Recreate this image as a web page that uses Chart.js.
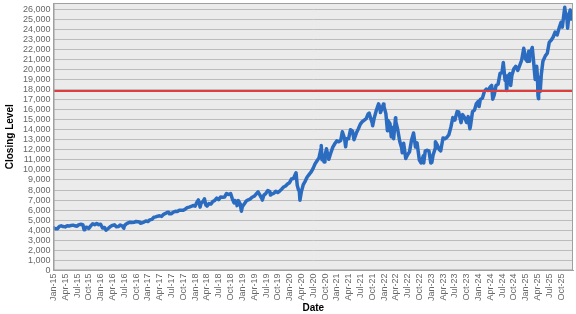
<!DOCTYPE html>
<html>
<head>
<meta charset="utf-8">
<script src="https://cdn.jsdelivr.net/npm/chart.js@4.4.1/dist/chart.umd.min.js"></script>
<style>
html,body{margin:0;padding:0;background:#fff;}
#wrap{width:576px;height:314px;position:relative;}
</style>
</head>
<body>
<div id="wrap"><canvas id="c"></canvas></div>
<script>
const dates = [
"2015-01-02","2015-01-15","2015-01-31","2015-02-15","2015-02-28","2015-03-15","2015-03-31","2015-04-15","2015-04-30","2015-05-15","2015-05-31","2015-06-15","2015-06-30","2015-07-15","2015-07-31","2015-08-15","2015-08-25","2015-08-31","2015-09-15","2015-09-30","2015-10-15","2015-10-31","2015-11-15","2015-11-30","2015-12-15","2015-12-31",
"2016-01-15","2016-01-31","2016-02-11","2016-02-29","2016-03-15","2016-03-31","2016-04-15","2016-04-30","2016-05-15","2016-05-31","2016-06-15","2016-06-27","2016-06-30","2016-07-15","2016-07-31","2016-08-15","2016-08-31","2016-09-15","2016-09-30","2016-10-15","2016-10-31","2016-11-04","2016-11-15","2016-11-30","2016-12-15","2016-12-31",
"2017-01-15","2017-01-31","2017-02-15","2017-02-28","2017-03-15","2017-03-31","2017-04-15","2017-04-30","2017-05-15","2017-05-31","2017-06-09","2017-06-15","2017-06-30","2017-07-15","2017-07-31","2017-08-15","2017-08-31","2017-09-15","2017-09-30","2017-10-15","2017-10-31","2017-11-15","2017-11-30","2017-12-15","2017-12-31",
"2018-01-15","2018-01-26","2018-02-08","2018-02-15","2018-02-28","2018-03-12","2018-03-23","2018-03-31","2018-04-02","2018-04-15","2018-04-30","2018-05-15","2018-05-31","2018-06-15","2018-06-30","2018-07-15","2018-07-31","2018-08-15","2018-08-31","2018-09-15","2018-09-30","2018-10-01","2018-10-15","2018-10-29","2018-10-31","2018-11-15","2018-11-20","2018-11-30","2018-12-15","2018-12-24","2018-12-31",
"2019-01-15","2019-01-31","2019-02-15","2019-02-28","2019-03-15","2019-03-31","2019-04-15","2019-04-30","2019-05-15","2019-05-31","2019-06-03","2019-06-15","2019-06-30","2019-07-15","2019-07-31","2019-08-05","2019-08-15","2019-08-31","2019-09-15","2019-09-30","2019-10-15","2019-10-31","2019-11-15","2019-11-30","2019-12-15","2019-12-31",
"2020-01-15","2020-01-31","2020-02-19","2020-02-28","2020-03-09","2020-03-15","2020-03-20","2020-03-31","2020-04-15","2020-04-30","2020-05-15","2020-05-31","2020-06-15","2020-06-30","2020-07-15","2020-07-31","2020-08-15","2020-08-31","2020-09-02","2020-09-08","2020-09-15","2020-09-23","2020-09-30","2020-10-12","2020-10-30","2020-11-15","2020-11-30","2020-12-15","2020-12-31",
"2021-01-15","2021-01-31","2021-02-12","2021-02-28","2021-03-08","2021-03-15","2021-03-31","2021-04-15","2021-04-30","2021-05-12","2021-05-31","2021-06-15","2021-06-30","2021-07-15","2021-07-31","2021-08-15","2021-08-31","2021-09-07","2021-09-15","2021-09-30","2021-10-04","2021-10-15","2021-10-31","2021-11-19","2021-11-30","2021-12-03","2021-12-15","2021-12-27","2021-12-31",
"2022-01-15","2022-01-27","2022-01-31","2022-02-15","2022-02-24","2022-02-28","2022-03-14","2022-03-29","2022-03-31","2022-04-15","2022-04-30","2022-05-15","2022-05-20","2022-05-31","2022-06-16","2022-06-30","2022-07-15","2022-07-31","2022-08-16","2022-08-31","2022-09-12","2022-09-30","2022-10-13","2022-10-31","2022-11-03","2022-11-15","2022-11-30","2022-12-13","2022-12-28",
"2023-01-05","2023-01-15","2023-01-31","2023-02-02","2023-02-15","2023-02-28","2023-03-13","2023-03-31","2023-04-15","2023-04-30","2023-05-15","2023-05-31","2023-06-15","2023-06-30","2023-07-18","2023-07-31","2023-08-18","2023-08-31","2023-09-15","2023-09-30","2023-10-12","2023-10-26","2023-10-31","2023-11-15","2023-11-30","2023-12-15","2023-12-31",
"2024-01-05","2024-01-15","2024-01-31","2024-02-15","2024-02-29","2024-03-15","2024-03-31","2024-04-11","2024-04-19","2024-04-30","2024-05-15","2024-05-31","2024-06-15","2024-06-30","2024-07-10","2024-07-24","2024-07-31","2024-08-05","2024-08-15","2024-08-31","2024-09-06","2024-09-15","2024-09-30","2024-10-15","2024-10-31","2024-11-15","2024-11-30","2024-12-16","2024-12-31",
"2025-01-13","2025-01-24","2025-01-27","2025-01-31","2025-02-19","2025-02-28","2025-03-10","2025-03-13","2025-03-25","2025-03-31","2025-04-04","2025-04-08","2025-04-09","2025-04-21","2025-04-30","2025-05-12","2025-05-31","2025-06-15","2025-06-30","2025-07-15","2025-07-31","2025-08-15","2025-08-31","2025-09-15","2025-09-30","2025-10-10","2025-10-29","2025-10-31","2025-11-15","2025-11-20","2025-11-30","2025-12-10","2025-12-17","2025-12-24"
];
const closes = [
4230,4150,4151,4380,4440,4370,4334,4440,4415,4480,4509,4440,4397,4560,4588,4560,4050,4275,4300,4182,4430,4648,4560,4665,4560,4593,
4230,4280,4000,4202,4380,4483,4540,4341,4370,4523,4420,4200,4417,4620,4731,4800,4771,4790,4876,4850,4801,4700,4740,4810,4930,4864,
5030,5079,5290,5330,5400,5436,5380,5584,5670,5788,5790,5630,5647,5800,5880,5860,5988,6000,5979,6090,6248,6300,6367,6460,6397,
6800,7020,6300,6700,6854,7130,6500,6581,6400,6650,6605,6850,6967,7200,7040,7300,7272,7300,7660,7560,7627,7650,7100,6700,6967,6880,6450,6950,6600,5900,6330,
6600,6907,7030,7100,7280,7378,7600,7819,7500,7127,7000,7500,7672,7950,7848,7500,7600,7663,7880,7750,7900,8084,8300,8403,8600,8733,
9100,9151,9718,8462,8000,7900,6994,7813,8550,8890,9300,9555,9800,10157,10600,10905,11200,12111,12420,11000,11400,10800,11418,12100,11052,11700,12268,12600,12888,
12800,12925,13800,13092,12300,13100,13092,14000,13860,13000,13686,14100,14554,14800,14960,15100,15582,15650,15300,14690,14400,15100,15850,16573,16135,15700,16100,16560,16320,
15600,13900,14930,14600,13300,14237,13100,15200,14838,14000,12855,12200,11700,12643,11130,11503,11800,12947,13667,12272,12700,10971,10690,11406,10700,11900,11951,11900,10679,
10750,11500,12100,12800,12500,12042,11900,13181,13100,13246,13500,14254,15200,14945,15800,15757,14700,15501,15200,14715,15300,14100,14410,15800,15947,16600,16826,
16300,17000,17137,17800,18043,17900,18254,18400,17037,17440,18400,18537,19600,19683,20675,18900,19362,17900,19300,19575,18400,19400,20061,20300,19890,20400,20930,22100,21012,
20800,21800,20800,21478,22175,20884,19400,19000,20300,19278,17400,17090,19150,17800,19571,20800,21340,21600,22679,22900,23218,23700,23415,24100,24680,24200,26180,25858,25000,24100,25400,25900,25000,25650
];
const referenceLevel = 17850;
const quarterNames = ["Jan","Apr","Jul","Oct"];
const yTitle = "Closing Level";
const xTitle = "Date";

function monthIndex(s){
  const [y,m,d] = s.split("-").map(Number);
  const dim = new Date(y, m, 0).getDate();
  return (y-2015)*12 + (m-1) + (d-1)/dim;
}
const points = dates.map((d,i)=>({x:monthIndex(d), y:closes[i]}));
const xMax = 132;

const plotBg = {
  id:'plotBg',
  beforeDraw(chart){
    const {ctx, chartArea:a} = chart;
    ctx.save();
    ctx.fillStyle = '#ebebeb';
    ctx.fillRect(a.left, a.top, a.right-a.left, a.bottom-a.top);
    ctx.restore();
  },
  afterDraw(chart){
    const {ctx, chartArea:a} = chart;
    ctx.save();
    ctx.strokeStyle = '#a0a0a0';
    ctx.lineWidth = 1;
    ctx.strokeRect(a.left+0.5, a.top+0.5, a.right-a.left-1, a.bottom-a.top-1);
    ctx.restore();
  }
};

new Chart(document.getElementById('c'), {
  type:'line',
  data:{
    datasets:[
      {data:[{x:0,y:referenceLevel},{x:xMax,y:referenceLevel}], borderColor:'#e03c3c', borderWidth:2, pointRadius:0, order:0},
      {data:points, borderColor:'#2b6cc0', borderWidth:3.5, borderJoinStyle:'round', borderCapStyle:'round', pointRadius:0, tension:0, order:1}
    ]
  },
  options:{
    responsive:true, maintainAspectRatio:false, animation:false,
    layout:{padding:{left:4,right:3,top:3,bottom:0}},
    plugins:{legend:{display:false}, tooltip:{enabled:false}},
    scales:{
      x:{
        type:'linear', min:0, max:xMax,
        afterBuildTicks(s){ const t=[]; for(let v=0; v<=129; v+=3) t.push({value:v}); s.ticks=t; },
        ticks:{
          autoSkip:false, minRotation:90, maxRotation:90, padding:1,
          color:'#666', font:{family:'Arial, Liberation Sans', size:9},
          callback(v){ const m=Math.round(v); return quarterNames[(m%12)/3] + '-' + String(15+Math.floor(m/12)); }
        },
        grid:{display:false, drawTicks:true, tickLength:2, color:'#a0a0a0'},
        border:{color:'#a0a0a0'},
        title:{display:true, text:xTitle, color:'#000', font:{family:'Arial, Liberation Sans', size:10, weight:'bold'}, padding:{top:0,bottom:0}}
      },
      y:{
        min:0, max:26600,
        afterBuildTicks(s){ const t=[]; for(let v=0; v<=26000; v+=1000) t.push({value:v}); s.ticks=t; },
        afterFit(s){ s.paddingTop = 0; },
        ticks:{
          autoSkip:false, color:'#666', padding:3, font:{family:'Arial, Liberation Sans', size:9},
          callback(v){ return v.toLocaleString('en-US'); }
        },
        grid:{color:'#bcbcbc', drawTicks:false},
        border:{color:'#a0a0a0'},
        title:{display:true, text:yTitle, color:'#000', font:{family:'Arial, Liberation Sans', size:10, weight:'bold'}, padding:{top:0,bottom:4}}
      }
    }
  },
  plugins:[plotBg]
});
</script>
</body>
</html>
